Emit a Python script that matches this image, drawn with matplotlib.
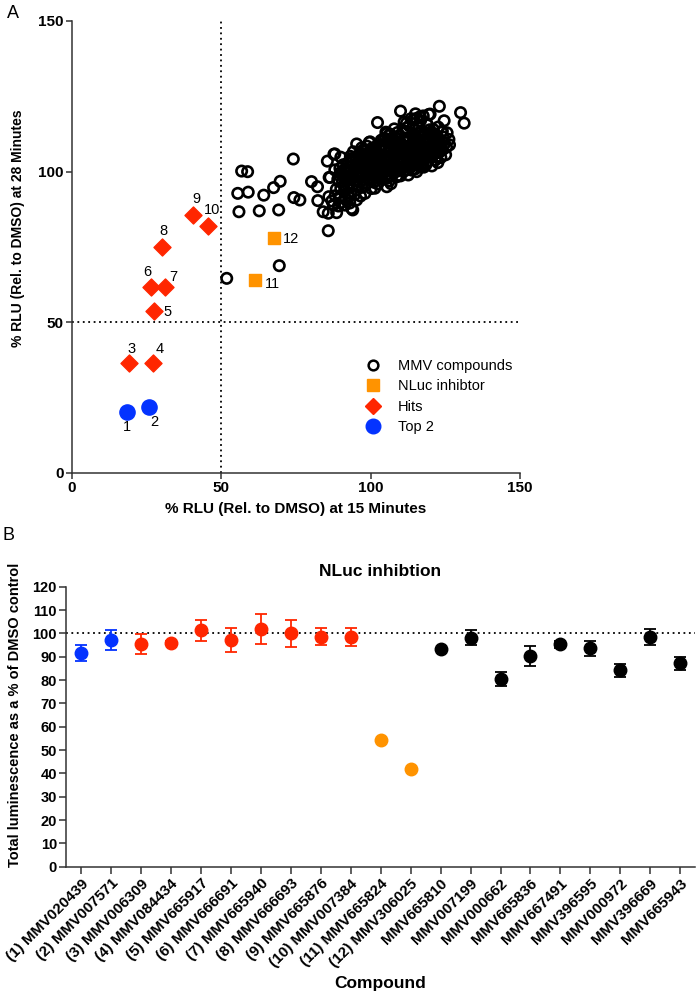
import matplotlib
matplotlib.use("Agg")
import matplotlib.pyplot as plt
from matplotlib.lines import Line2D

plt.rcParams['font.family'] = ['Liberation Sans', 'DejaVu Sans']

# ---------------- Panel A data ----------------
mmv_x = [51.8, 69.4, 55.9, 62.7, 69.2, 55.5, 59.0, 64.2, 67.5, 69.7, 56.8, 58.8, 74.1, 74.3, 76.3, 80.2,
         82.2, 82.3, 86.0, 84.1, 85.8, 88.6, 85.8, 94.0, 86.1, 85.5, 88.0, 90.0, 95.3, 99.8, 102.3, 105.1,
         106.5, 110.0, 112.0, 115.4, 117.6, 119.5, 123.0, 130.1, 131.3, 124.6, 123.8, 126.2, 125.4, 121.5,
         117.8, 115.4, 108.7, 105.4, 101.4, 98.1, 95.3, 93.6, 91.4, 89.2, 87.5, 89.7, 88.0, 89.7, 93.1, 94.2,
         97.5, 105.4, 114.3, 116.5, 118.7, 120.4, 122.1, 118.7, 112.0, 112.6, 119.9, 116.5, 99.5, 87.7,
         86.4,
         88.5, 89.3, 90.4, 91.2, 90.8, 92.1, 91.7, 89.6, 92.6, 92.3,
         93.4, 93.8, 94.5, 94.1, 95.2, 95.6, 95.0, 96.3, 96.1, 93.2,
         97.2, 97.5, 97.9, 98.3, 98.8, 99.1, 99.6, 99.4, 97.0, 100.2,
         100.5, 100.8, 101.2, 101.5, 102.1, 102.4, 102.8, 103.1, 103.5, 103.9, 104.2,
         104.6, 104.9, 105.3, 105.7, 106.2, 106.4, 106.8, 107.2, 107.5, 107.9, 108.3,
         108.6, 108.9, 109.4, 109.7, 110.1, 110.5, 110.8, 111.2, 111.5, 111.9, 112.2, 112.4,
         112.9, 113.3, 113.6, 113.8, 114.2, 114.6, 114.9, 115.3, 115.7, 116.0, 116.2, 116.4,
         116.9, 117.3, 117.6, 117.9, 118.3, 118.8, 119.1, 119.4, 119.8, 120.1, 120.5,
         120.9, 121.3, 121.7, 122.2, 122.6, 123.1, 123.5, 124.0, 124.3,
         124.8, 125.6, 126.4, 125.1,
         87.0, 88.1, 90.1, 91.6, 93.0, 94.6, 96.6,
         98.0, 100.0, 101.8, 103.0, 104.8, 106.0, 107.0, 108.0, 109.0, 110.0, 111.0, 112.0, 113.0,
         105.0, 102.0, 99.0, 96.5, 95.0, 97.6, 103.6,
         96.0, 98.7, 100.6, 102.7, 104.3, 106.1, 107.9, 109.5, 111.2, 113.5, 115.0, 116.7]
mmv_y = [64.6, 68.8, 86.7, 87.0, 87.3, 92.8, 93.2, 92.2, 94.7, 96.8, 100.2, 100.0, 104.2, 91.4, 90.6, 96.7,
         95.0, 90.4, 91.7, 86.7, 86.2, 86.4, 80.4, 87.3, 98.1, 103.5, 105.9, 104.8, 109.2, 109.9, 116.3, 113.1,
         112.5, 120.1, 116.1, 117.7, 118.5, 119.0, 121.7, 119.6, 116.1, 116.9, 113.1, 110.7, 108.1, 110.0,
         101.5, 100.0, 98.3, 95.0, 94.5, 92.8, 90.6, 87.8, 88.9, 88.6, 88.9, 91.7, 100.6, 101.1, 103.9, 106.6,
         107.2, 112.7, 117.2, 108.3, 110.5, 107.2, 105.0, 102.8, 100.6, 98.9, 119.1, 118.2, 109.7, 105.8,
         98.1,
         94.2, 96.8, 99.2, 93.5, 102.3, 97.1, 100.4, 91.2, 95.0, 102.9,
         92.6, 98.4, 101.2, 95.8, 93.9, 99.7, 104.1, 96.5, 102.2, 105.1,
         94.8, 98.9, 101.6, 104.5, 96.2, 99.3, 102.8, 106.3, 107.9, 94.4,
         97.6, 100.9, 103.7, 108.2, 99.0, 95.9, 102.1, 105.6, 110.4, 97.4, 100.3,
         103.9, 107.1, 99.1, 101.8, 96.9, 105.2, 109.3, 102.6, 99.9, 107.6, 111.3,
         101.1, 104.2, 98.7, 106.4, 102.7, 109.0, 113.6, 100.2, 105.1, 107.8, 111.1, 103.0,
         115.2, 101.4, 106.1, 109.4, 104.0, 112.4, 100.9, 107.3, 110.6, 103.1, 114.6, 105.8,
         101.8, 108.5, 112.2, 104.7, 106.9, 116.0, 103.4, 109.8, 113.9, 105.6, 101.9,
         108.4, 111.7, 103.9, 106.7, 114.8, 109.6, 104.7, 107.2, 111.5,
         109.3, 112.9, 108.9, 105.6,
         90.3, 92.0, 89.8, 91.1, 89.6, 92.3, 91.9,
         100.3, 99.0, 101.3, 100.7, 102.0, 100.8, 104.6, 103.0, 101.6, 104.7, 103.4, 106.2, 104.8,
         105.4, 104.9, 102.0, 100.2, 97.0, 97.3, 98.2,
         105.6, 108.5, 106.2, 107.8, 110.9, 112.0, 114.2, 111.9, 116.5, 117.6, 119.2, 116.9]
# additional compounds inside the dense core of the cloud
core_x = [89.0, 90.0, 91.0, 92.0, 93.0, 94.0, 95.0, 96.0, 97.0, 98.0,
          99.0, 100.0, 101.0, 102.0, 103.0, 104.0, 105.0, 106.0, 107.0, 108.0,
          109.0, 110.0, 111.0, 112.0, 113.0, 114.0, 115.0, 116.0, 117.0, 118.0,
          119.0, 120.0, 121.0, 122.0, 123.0, 124.0, 97.5, 99.5, 101.5, 103.5,
          105.5, 107.5, 109.5, 111.5, 113.5, 115.5, 117.5, 119.5, 121.5, 93.5,
          91.0, 95.5, 100.5, 104.5, 108.5, 112.5, 116.5, 120.5, 96.8, 102.5,
          106.5, 110.5, 114.5, 118.5, 89.8, 92.5, 98.5, 103.8, 108.0, 111.8,
          114.0, 116.0, 119.0, 121.0, 124.0, 122.5, 117.5, 113.8, 110.0, 106.8,
          90.5, 91.5, 92.5, 93.5, 94.5, 95.5, 96.5, 97.5, 98.5, 99.5,
          100.5, 101.5, 102.5, 103.5, 104.5, 105.5, 106.5, 107.5, 108.5, 109.5,
          110.5, 111.5, 112.5, 113.5, 114.5, 115.5, 116.5, 117.5, 118.5, 119.5,
          120.5, 121.5, 122.5, 123.5, 94.0, 97.0, 100.0, 103.0, 106.0, 109.0,
          111.0, 114.0, 117.0, 119.5, 115.0, 112.0, 108.0, 105.0, 101.0, 98.0]
core_y = [97.5, 94.5, 98.0, 100.0, 96.0, 99.5, 102.0, 98.0, 101.0, 95.5,
          104.0, 102.0, 96.5, 106.5, 103.0, 99.5, 108.0, 104.0, 98.5, 106.0,
          109.5, 100.5, 107.0, 102.0, 111.0, 106.0, 102.5, 109.0, 106.0, 113.0,
          107.0, 110.5, 105.5, 109.0, 106.5, 110.0, 103.5, 97.8, 100.0, 107.5,
          97.8, 111.0, 103.0, 109.8, 103.5, 105.0, 110.5, 104.8, 112.5, 103.0,
          95.5, 95.3, 104.8, 105.0, 100.0, 104.0, 111.5, 108.0, 104.0, 97.8,
          108.0, 106.0, 108.5, 102.3, 99.6, 93.0, 107.0, 109.0, 108.8, 113.2,
          114.5, 112.8, 115.5, 114.0, 113.5, 103.0, 103.8, 100.5, 98.6, 96.0,
          97.0, 101.0, 98.5, 100.5, 97.0, 101.5, 103.0, 99.0, 102.5, 105.0,
          101.5, 98.0, 103.5, 101.5, 107.5, 103.0, 106.5, 102.0, 105.5, 108.0,
          103.5, 110.5, 108.0, 105.5, 110.0, 108.0, 104.0, 107.5, 110.0, 106.0,
          112.0, 107.5, 111.0, 108.5, 104.5, 106.0, 107.5, 108.5, 110.5, 113.0,
          101.5, 102.5, 104.5, 111.5, 112.0, 114.5, 110.0, 111.0, 105.5, 104.0]

top2_x = [18.3, 25.9]
top2_y = [20.1, 22.0]
top2_lab = ["1", "2"]
hits_x = [19.1, 27.2, 27.5, 26.3, 31.2, 30.0, 40.6, 45.6]
hits_y = [36.4, 36.6, 53.9, 61.8, 61.6, 74.9, 85.6, 82.0]
hits_lab = ["3", "4", "5", "6", "7", "8", "9", "10"]
nluc_x = [61.3, 67.7]
nluc_y = [64.0, 78.1]
nluc_lab = ["11", "12"]

# ---------------- Panel B data ----------------
compounds = ["(1) MMV020439", "(2) MMV007571", "(3) MMV006309", "(4) MMV084434", "(5) MMV665917",
             "(6) MMV666691", "(7) MMV665940", "(8) MMV666693", "(9) MMV665876", "(10) MMV007384",
             "(11) MMV665824", "(12) MMV306025", "MMV665810", "MMV007199", "MMV000662", "MMV665836",
             "MMV667491", "MMV396595", "MMV000972", "MMV396669", "MMV665943"]
lum_mean = [91.7, 97.2, 95.3, 95.9, 101.3, 97.2, 102.0, 100.0, 98.6, 98.3, 54.3, 41.7,
            93.2, 98.2, 80.4, 90.4, 95.3, 93.6, 84.2, 98.4, 87.2]
lum_err = [3.5, 4.2, 4.3, 1.0, 4.5, 5.2, 6.5, 5.9, 3.7, 3.8, 0.0, 0.0,
           0.5, 3.2, 3.0, 4.2, 1.5, 3.3, 2.7, 3.5, 2.8]
groups = ["top"] * 2 + ["hit"] * 8 + ["nluc"] * 2 + ["other"] * 9

BLUE = '#0433FF'
RED = '#FF2600'
ORANGE = '#FF9300'
group_color = {"top": BLUE, "hit": RED, "nluc": ORANGE, "other": "black"}

W, H = 697, 993
fig = plt.figure(figsize=(W / 100, H / 100), dpi=100)

def ax_rect(l, r, t, b):
    return [l / W, 1 - b / H, (r - l) / W, (b - t) / H]

narrow = ['Liberation Sans Narrow', 'Liberation Sans']

# ---------------- Panel A ----------------
axA = fig.add_axes(ax_rect(72, 520, 21, 473))
axA.set_xlim(0, 150)
axA.set_ylim(0, 150)
axA.plot([50, 50], [0, 150], ls=(0, (1, 2)), color='black', lw=1.3, zorder=1)
axA.plot([0, 150], [50, 50], ls=(0, (1, 2)), color='black', lw=1.3, zorder=1)
axA.scatter(mmv_x + core_x, mmv_y + core_y, s=56, facecolors='none', edgecolors='black',
            linewidths=1.9, zorder=2)
axA.scatter(nluc_x, nluc_y, s=75, marker='s', color=ORANGE, zorder=3)
axA.scatter(hits_x, hits_y, s=75, marker='D', color=RED, zorder=3)
axA.scatter(top2_x, top2_y, s=120, marker='o', color=BLUE, zorder=3)

lab_off_px = {"1": (0, -15), "2": (4.7, -15), "3": (2, 14.3), "4": (6, 13.7), "5": (13.3, -1),
              "6": (-3.4, 14.4), "7": (8, 10.6), "8": (2.3, 16.6), "9": (3.4, 15.7),
              "10": (3.4, 16), "11": (17.3, -4), "12": (16.4, -1)}
for xs, ys, labs in [(top2_x, top2_y, top2_lab), (hits_x, hits_y, hits_lab), (nluc_x, nluc_y, nluc_lab)]:
    for x, y, lb in zip(xs, ys, labs):
        dx, dy = lab_off_px[lb]
        axA.annotate(lb, (x, y), xytext=(dx * 0.72, dy * 0.72), textcoords='offset points',
                     ha='center', va='center', fontsize=10.5)

for sp in ['top', 'right']:
    axA.spines[sp].set_visible(False)
for sp in ['left', 'bottom']:
    axA.spines[sp].set_linewidth(1.1)
    axA.spines[sp].set_color('#333333')
axA.set_xticks([0, 50, 100, 150])
axA.set_yticks([0, 50, 100, 150])
axA.tick_params(length=4, width=1.1, color='#333333', labelsize=11, pad=2)
for t in axA.get_xticklabels() + axA.get_yticklabels():
    t.set_fontweight('bold')
axA.set_xlabel('% RLU (Rel. to DMSO) at 15 Minutes', fontsize=11, fontweight='bold')
axA.xaxis.set_label_coords(0.5, -(502 - 473) / 452)
axA.set_ylabel('% RLU (Rel. to DMSO) at 28 Minutes', fontsize=10, fontweight='bold')
axA.yaxis.set_label_coords(-(72 - 25) / 448, (473 - 228) / 452)

handles = [
    Line2D([], [], ls='none', marker='o', markersize=7, markerfacecolor='none',
           markeredgecolor='black', markeredgewidth=1.8),
    Line2D([], [], ls='none', marker='s', markersize=8.5, color=ORANGE),
    Line2D([], [], ls='none', marker='D', markersize=8, color=RED),
    Line2D([], [], ls='none', marker='o', markersize=10.5, color=BLUE),
]
axA.legend(handles, ['MMV compounds', 'NLuc inhibtor', 'Hits', 'Top 2'], loc='upper left',
           bbox_to_anchor=(0.627, 0.282), frameon=False, fontsize=10.5, handlelength=1.0,
           handletextpad=1.2, labelspacing=0.45, borderpad=0.4)

fig.text(7 / W, 1 - 13 / H, 'A', fontsize=13, ha='left', va='center')

# ---------------- Panel B ----------------
axB = fig.add_axes(ax_rect(66, 695, 586.7, 866.7))
xpos = list(range(len(compounds)))
axB.axhline(100, ls=(0, (1, 2)), color='black', lw=1.3, zorder=1)
for i, (m, e, g) in enumerate(zip(lum_mean, lum_err, groups)):
    c = group_color[g]
    axB.errorbar(i, m, yerr=e if e > 0 else None, fmt='o', color=c, ecolor=c, markersize=9,
                 capsize=4.5, elinewidth=1.3, capthick=1.3, zorder=3)
axB.set_xlim(-0.5, 20.49)
axB.set_ylim(0, 120)
axB.set_yticks(list(range(0, 121, 10)))
axB.set_xticks(xpos)
axB.set_xticklabels(compounds, rotation=45, ha='right', rotation_mode='anchor',
                    fontsize=11, fontweight='bold')
for t in axB.get_yticklabels():
    t.set_fontweight('bold')
    t.set_family(narrow)
    t.set_fontsize(10.5)
for sp in ['top', 'right']:
    axB.spines[sp].set_visible(False)
for sp in ['left', 'bottom']:
    axB.spines[sp].set_linewidth(1.1)
    axB.spines[sp].set_color('#333333')
axB.tick_params(axis='y', length=5, width=1.1, color='#333333', pad=1.5)
axB.tick_params(axis='x', length=5, width=1.1, color='#333333', pad=2)
axB.set_title('NLuc inhibtion', fontsize=12.5, fontweight='bold', pad=8)
axB.set_ylabel('Total luminescence as a % of DMSO control', fontsize=10.5, fontweight='bold')
axB.yaxis.set_label_coords(-(66 - 22) / 629, (866.7 - 715) / 280)
axB.set_xlabel('Compound', fontsize=12.5, fontweight='bold')
axB.xaxis.set_label_coords(0.5, -(976 - 866.7) / 280)

fig.text(3 / W, 1 - 535 / H, 'B', fontsize=13, ha='left', va='center')

fig.savefig('out.png', dpi=100)
